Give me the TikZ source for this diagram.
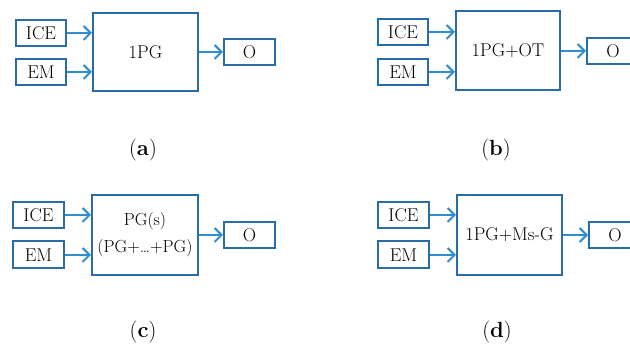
\documentclass[tikz,border=0pt]{standalone}
\usetikzlibrary{arrows.meta}
\definecolor{boxblue}{HTML}{2A6CA6}
\definecolor{arrblue}{HTML}{2F8DD3}
\tikzset{
	blk/.style={draw=boxblue,line width=2pt,minimum width=50pt,minimum height=26pt,inner sep=0pt,font=\fontsize{18.5}{20}\selectfont},
	arr/.style={draw=arrblue,line width=2pt,-{Straight Barb[length=7pt,width=14pt]}},
	lbl/.style={font=\fontsize{22}{24}\selectfont}
}
\begin{document}
\begin{tikzpicture}[x=1pt,y=-1pt]
			\useasboundingbox (0,0) rectangle (630,344);
			\clip (0,0) rectangle (630,344);
			%			(a)
			\node[blk] (iceA) at (41,33) {ICE};
			\node[blk] (emA) at (41,72) {EM};
			\node[blk,minimum width=105pt,minimum height=78pt] (pgA) at (145.5,52) {1PG};
			\node[blk,minimum width=51pt] (oA) at (249.5,52) {O};
			\draw[arr] (iceA.east) -- (iceA.east -| pgA.west);
			\draw[arr] (emA.east) -- (emA.east -| pgA.west);
			\draw[arr] (pgA.east) -- (oA.west);
			\node[lbl] (labA) at (143,150) {(\textbf{a})};
			%			(b)
			\node[blk] (iceB) at (403,32) {ICE};
			\node[blk] (emB) at (403,72) {EM};
			\node[blk,minimum width=104pt,minimum height=79pt] (pgB) at (508,51) {1PG+OT};
			\node[blk,minimum width=52pt] (oB) at (613,51) {O};
			\draw[arr] (iceB.east) -- (iceB.east -| pgB.west);
			\draw[arr] (emB.east) -- (emB.east -| pgB.west);
			\draw[arr] (pgB.east) -- (oB.west);
			\node[lbl] (labB) at (496,150) {(\textbf{b})};
			%			(c)
			\node[blk,minimum width=51pt] (iceC) at (38.5,215) {ICE};
			\node[blk,minimum width=51pt,minimum height=27pt] (emC) at (38.5,255) {EM};
			\node[blk,minimum width=106pt,minimum height=80pt,align=center,font=\fontsize{17.5}{27}\selectfont] (pgC) at (145,235) {PG(s)\\(PG+\ldots+PG)};
			\node[blk,minimum width=51pt] (oC) at (249.5,235) {O};
			\draw[arr] (iceC.east) -- (iceC.east -| pgC.west);
			\draw[arr] (emC.east) -- (emC.east -| pgC.west);
			\draw[arr] (pgC.east) -- (oC.west);
			\node[lbl] (labC) at (143,332) {(\textbf{c})};
			%			(d)
			\node[blk,minimum width=51pt] (iceD) at (403.5,215) {ICE};
			\node[blk,minimum width=51pt,minimum height=27pt] (emD) at (403.5,255) {EM};
			\node[blk,minimum width=105pt,minimum height=80pt] (pgD) at (509.5,235) {1PG+Ms-G};
			\node[blk,minimum width=52pt] (oD) at (615,235) {O};
			\draw[arr] (iceD.east) -- (iceD.east -| pgD.west);
			\draw[arr] (emD.east) -- (emD.east -| pgD.west);
			\draw[arr] (pgD.east) -- (oD.west);
			\node[lbl] (labD) at (497,332) {(\textbf{d})};
		\end{tikzpicture}
\end{document}
